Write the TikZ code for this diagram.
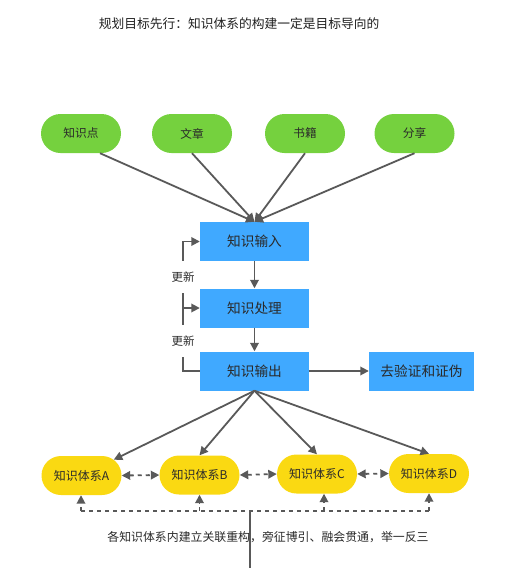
\documentclass[tikz,border=0pt]{standalone}
\usepackage{fontspec}
\setmainfont{Noto Sans CJK SC}
\usetikzlibrary{arrows,arrows.meta,positioning,shapes.misc}
\definecolor{leafgreen}{RGB}{117,209,62}
\definecolor{stageblue}{RGB}{64,169,255}
\definecolor{sysyellow}{RGB}{250,217,18}
\definecolor{linegray}{RGB}{89,89,89}
\definecolor{txtgray}{RGB}{42,42,42}

\begin{document}
\begin{tikzpicture}[x=1pt,y=-1pt,
		src/.style={rounded rectangle,fill=leafgreen,minimum width=80pt,minimum height=39pt,inner sep=0pt,text=txtgray,font=\fontsize{11.7}{13}\selectfont},
		stage/.style={rectangle,fill=stageblue,minimum width=109pt,minimum height=39pt,inner sep=0pt,text=txtgray,font=\fontsize{13.7}{15}\selectfont},
		sys/.style={rounded rectangle,fill=sysyellow,minimum width=80pt,minimum height=39pt,inner sep=0pt,text=txtgray,font=\fontsize{12}{14}\selectfont},
		lnk/.style={draw=linegray,line width=1.8pt},
		arr/.style={lnk,-{Triangle[length=8.5pt,width=8.5pt]}},
		dotlnk/.style={lnk,dash pattern=on 4pt off 4pt},
		upd/.style={minimum height=32pt,inner sep=0pt,text=txtgray,font=\fontsize{11.5}{13}\selectfont}]
			\useasboundingbox (0,0) rectangle (505,568);
			\node (title) at (239,24) [text=black!88,font=\fontsize{12.75}{15}\selectfont] {规划目标先行：知识体系的构建一定是目标导向的};
			\node (kp) at (81,133.5) [src] {知识点};
			\node (wz) at (192,133.5) [src] {文章};
			\node (sj) at (305,133.5) [src] {书籍};
			\node (fx) at (414.5,133.5) [src] {分享};
			\node (in) at (254.5,241.5) [stage] {知识输入};
			\node (proc) at (254.5,308) [stage] {知识处理};
			\node (out) at (254.5,371) [stage] {知识输出};
			\node (ver) at (421.5,371) [stage,minimum width=105pt] {去验证和证伪};
			\node (upa) at (183,277) [upd] {更新};
			\node (upb) at (183,341) [upd] {更新};
			\node (sa) at (81.5,475.5) [sys] {知识体系A};
			\node (sb) at (199.5,475) [sys] {知识体系B};
			\node (sc) at (317,474) [sys] {知识体系C};
			\node (sd) at (429,473.5) [sys] {知识体系D};
			\coordinate (busl) at (81,511);
			\coordinate (busr) at (429,511);
			\coordinate (stem) at (250,511);
			\coordinate (stemend) at (250,568);
			\draw[arr] ([xshift=19pt]kp.south)--(in.north);
			\draw[arr] (wz.south)--(in.north);
			\draw[arr] (sj.south)--(in.north);
			\draw[arr] (fx.south)--(in.north);
			\draw[arr] (in.south)--(proc.north);
			\draw[arr] (proc.south)--(out.north);
			\draw[arr] (out.east)--(ver.west);
			\draw[lnk] (out.west)-|(upb.south);
			\draw[lnk] (upb.north)--(upa.south);
			\draw[arr] (upa.south |- proc.west)--(proc.west);
			\draw[arr] (upa.north)|-(in.west);
			\draw[arr] (out.south)--(sa);
			\draw[arr] (out.south)--(sb.north);
			\draw[arr] (out.south)--(sc.north);
			\draw[arr] (out.south)--(sd.north);
			\draw[dotlnk,{Triangle[length=8.5pt,width=8.5pt]}-{Triangle[length=8.5pt,width=8.5pt]}] (sa.east)--(sb.west);
			\draw[dotlnk,{Triangle[length=8.5pt,width=8.5pt]}-{Triangle[length=8.5pt,width=8.5pt]}] (sb.east)--(sc.west);
			\draw[dotlnk,{Triangle[length=8.5pt,width=8.5pt]}-{Triangle[length=8.5pt,width=8.5pt]}] (sc.east)--(sd.west);
			\draw[dotlnk] (busl)--(busr);
			\draw[dotlnk,-{Triangle[length=8.5pt,width=8.5pt]}] (busl)--(sa.south -| busl);
			\draw[dotlnk,-{Triangle[length=8.5pt,width=8.5pt]}] (sb.south |- busl)--(sb.south);
			\draw[dotlnk,-{Triangle[length=8.5pt,width=8.5pt]}] ([xshift=7pt]sc.south |- busl)--([xshift=7pt]sc.south);
			\draw[dotlnk,-{Triangle[length=8.5pt,width=8.5pt]}] (busr)--(sd.south -| busr);
			\draw[lnk] (stem)--(stemend);
			\node (note) at (268,537) [text=txtgray,font=\fontsize{11.9}{14}\selectfont] {各知识体系内建立关联重构，旁征博引、融会贯通，举一反三};
		\end{tikzpicture}
\end{document}
